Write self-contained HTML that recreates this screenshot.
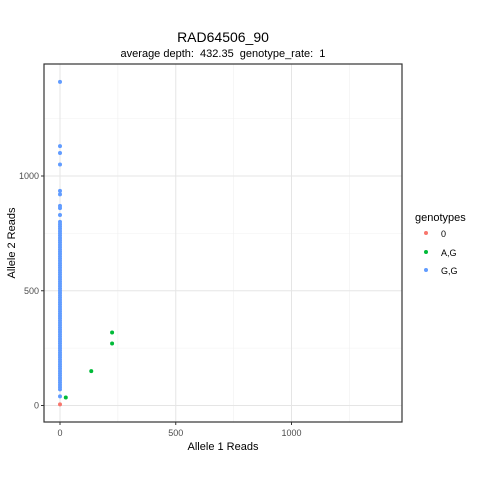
<!DOCTYPE html>
<html><head><meta charset="utf-8"><style>body{margin:0;background:#fff}svg{display:block;font-family:"Liberation Sans",sans-serif}</style></head>
<body>
<svg id="chart" width="480" height="480">
<text x="223" y="42" font-size="14" text-anchor="middle" fill="#000">RAD64506_90</text>
<text x="223" y="57" font-size="11" text-anchor="middle" fill="#000">average depth:&#160; 432.35&#160; genotype_rate:&#160; 1</text>
<g id="grid"></g><g id="pts"></g>
<rect x="44" y="64" width="358" height="358" fill="none" stroke="#333" stroke-width="1.2"/>
<g id="axes"></g>
<text x="223" y="450" font-size="11" text-anchor="middle">Allele 1 Reads</text>
<text transform="translate(15,243) rotate(-90)" font-size="11" text-anchor="middle">Allele 2 Reads</text>
<g>
<text x="415" y="221" font-size="11">genotypes</text>
<circle cx="426" cy="233" r="2" fill="#F8766D"/>
<text x="441" y="237" font-size="9">0</text>
<circle cx="426" cy="252" r="2" fill="#00BA38"/>
<text x="441" y="256" font-size="9">A,G</text>
<circle cx="426" cy="270" r="2" fill="#619CFF"/>
<text x="441" y="274" font-size="9">G,G</text>
</g>
</svg>
<script>
const xTicks=[0,500,1000];
const yTicks=[0,500,1000];
const redX=[0];const redY=[5];
const greenX=[25,135,225,225];const greenY=[35,150,270,318];
const blueY=[40,70,80,90,100,110,120,130,140,150,160,170,180,190,200,210,220,230,240,250,260,270,280,290,300,310,320,330,340,350,360,370,380,390,400,410,420,430,440,450,460,470,480,490,500,510,520,530,540,550,560,570,580,590,600,610,620,630,640,650,660,670,680,690,700,710,720,730,740,750,760,770,780,790,800,830,860,870,920,935,1050,1100,1130,1410];
const blueX=blueY.map(()=>0);
const sx=v=>60+v*0.2315, sy=v=>405.5-v*0.2295;
const NS='http://www.w3.org/2000/svg';
const g=document.getElementById('grid'),p=document.getElementById('pts'),a=document.getElementById('axes');
function mk(par,tag,at){const e=document.createElementNS(NS,tag);for(const k in at)e.setAttribute(k,at[k]);par.appendChild(e);return e;}
[-250,250,750,1250].forEach(v=>{
if(sx(v)>44&&sx(v)<402){const l=mk(g,'line',{x1:sx(v),x2:sx(v),y1:64,y2:422,stroke:'#f0f0f0','stroke-width':0.6});

}
if(sy(v)>64&&sy(v)<422){const m=mk(g,'line',{y1:sy(v),y2:sy(v),x1:44,x2:402,stroke:'#f0f0f0','stroke-width':0.6});

}});
xTicks.forEach(v=>{const l=mk(g,'line',{x1:sx(v),x2:sx(v),y1:64,y2:422,stroke:'#e5e5e5','stroke-width':1});


const t=mk(a,'line',{x1:sx(v),x2:sx(v),y1:422,y2:425,stroke:'#333'});


const tx=mk(a,'text',{x:sx(v),y:436,'font-size':9,'text-anchor':'middle',fill:'#4d4d4d'});tx.textContent=v;

});
yTicks.forEach(v=>{const l=mk(g,'line',{y1:sy(v),y2:sy(v),x1:44,x2:402,stroke:'#e5e5e5','stroke-width':1});


const t=mk(a,'line',{x1:41,x2:44,y1:sy(v),y2:sy(v),stroke:'#333'});


const tx=mk(a,'text',{x:39,y:sy(v)+3,'font-size':9,'text-anchor':'end',fill:'#4d4d4d'});tx.textContent=v;

});
function series(xs,ys,c,n){xs.forEach((x,i)=>{const e=mk(p,'circle',{cx:sx(x),cy:sy(ys[i]),r:2,fill:c});

});}
series(blueX,blueY,'#619CFF','point-gg');
series(redX,redY,'#F8766D','point-0');
series(greenX,greenY,'#00BA38','point-ag');
</script>
</body></html>
